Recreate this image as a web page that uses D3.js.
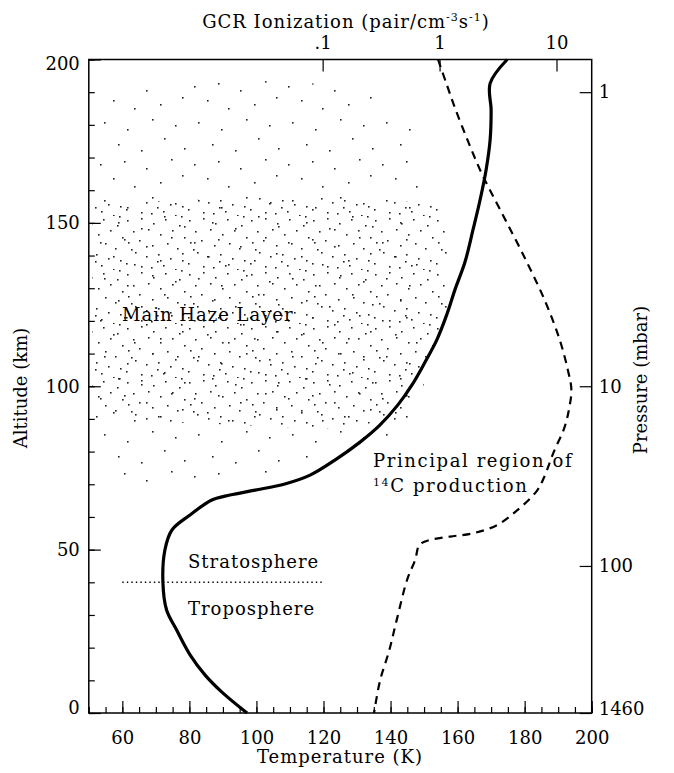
<!DOCTYPE html>
<html>
<head>
<title>Titan atmosphere: temperature and GCR ionization</title>
<script src="https://cdnjs.cloudflare.com/ajax/libs/d3/7.8.5/d3.min.js"></script>
<style>
body { margin: 0; background: #fff; }
svg text { font-family: "DejaVu Serif", serif; font-size: 18px; fill: #000; }
</style>
</head>
<body>
<svg id="chart" width="674" height="773"></svg>
<script>
// temperature profile, altitude (km) -> temperature (K)
var tempAlt = [200, 192.7, 184.5, 175.4, 166.2, 157, 147.9, 138, 129.5, 122, 114.2, 107.4, 100.4, 94.3, 88.1, 82.9, 77.4, 72.8, 70.1, 68.2, 66.7, 65.2, 60.6, 56, 49.9, 40.1, 31.5, 25.4, 17.8, 11.6, 6.4, 0];
var tempK   = [174.8, 169.7, 170, 169.7, 168.5, 166.7, 164.6, 162.2, 159.2, 156.8, 153.8, 150.3, 146.4, 142.2, 136.8, 130.9, 123.4, 116, 108.5, 99.6, 92.1, 86.7, 80.2, 74.8, 72.7, 72.1, 73.2, 76.2, 80.2, 84.7, 89.7, 97.2];

// GCR ionization rate (pair/cm3/s) against altitude (km)
var ionAlt  = [200, 192, 185, 175, 165, 154, 139, 126, 114, 105, 99, 93, 87, 80, 72, 68, 62, 57.5, 55, 54, 53, 52, 51, 47, 41, 28.5, 19, 10, 0];
var ionRate = [0.97, 1.16, 1.36, 1.75, 2.3, 3.3, 5.4, 8.0, 10.7, 12.5, 13.4, 12.8, 11.6, 9.5, 7.8, 6.8, 4.6, 3.1, 1.93, 1.23, 0.83, 0.7, 0.66, 0.62, 0.53, 0.43, 0.37, 0.31, 0.275];

// axis ticks
var tempTicks = [60, 80, 100, 120, 140, 160, 180, 200];
var altTicks = [0, 50, 100, 150, 200];
var ionTicks = [0.1, 1, 10];
var ionTickLabels = [".1", "1", "10"];
// pressure levels (mbar) and the altitude (km) they sit at
var pressureTicks = [1, 10, 100, 1460];
var pressureAlt = [190, 100, 45, 0];

// tropopause marker
var tropoT = [60, 120];
var tropoAlt = 40;

// outline of the haze layer stipple (T in K, altitude in km)
var hazeEdgeT   = [51, 90, 130, 148, 150, 140, 100, 60, 51];
var hazeEdgeAlt = [190, 194, 192, 182, 95, 84, 72, 70, 78];
var hazeCoreT   = [51, 110, 157, 157, 150, 146, 120, 51];
var hazeCoreAlt = [156, 158, 156, 118, 104, 90, 87, 90];

var svg = d3.select("#chart");
var pLeft = 88.8, pRight = 591.7, pTop = 59.5, pBottom = 713;

var x = d3.scaleLinear().domain([50, 200]).range([pLeft, pRight]);
var y = d3.scaleLinear().domain([0, 200]).range([pBottom, pTop]);
var xIon = d3.scaleLog().domain([0.001, 20]).range([pLeft, pRight]);
var yPress = d3.scaleLog().domain(pressureTicks).range(pressureAlt.map(function (a) { return y(a); }));

// stipple patterns for the haze (a fill texture, not data)
var defs = svg.append("defs");
function dotPattern(id, w, h, dots) {
    var p = defs.append("pattern").attr("id", id)
        .attr("patternUnits", "userSpaceOnUse")
        .attr("width", w).attr("height", h);
    dots.forEach(function (d) {
        p.append("rect").attr("x", d[0]).attr("y", d[1])
            .attr("width", 1.6).attr("height", 1.6).attr("fill", "#222");
    });
}
dotPattern("hazeSparse", 94, 78, [[6, 8], [30, 5], [52, 12], [77, 3], [19, 22], [40, 30], [66, 26], [88, 19],
    [10, 44], [33, 51], [58, 41], [81, 47], [24, 66], [47, 72], [70, 60], [90, 70]]);
dotPattern("hazeDense", 62, 54, [[3, 4], [17, 2], [29, 7], [41, 3], [55, 9], [9, 15], [24, 13], [36, 18],
    [48, 14], [60, 21], [4, 26], [15, 24], [28, 29], [43, 27], [53, 32], [11, 36], [22, 40], [34, 38],
    [46, 42], [58, 44], [2, 47], [17, 50], [27, 51], [39, 49], [51, 53], [7, 33], [33, 45], [57, 0]]);

var polyLine = d3.line().x(function (d) { return x(d[0]); }).y(function (d) { return y(d[1]); });
svg.append("path")
    .attr("d", polyLine(d3.zip(hazeEdgeT, hazeEdgeAlt)) + "Z")
    .attr("fill", "url(#hazeSparse)");
svg.append("path")
    .attr("d", polyLine(d3.zip(hazeCoreT, hazeCoreAlt)) + "Z")
    .attr("fill", "url(#hazeDense)");

// axes: ticks point into the frame
function clean(g) { g.select(".domain").remove(); g.selectAll("line").attr("stroke-width", 1.2); }

svg.append("g").attr("transform", "translate(0," + pBottom + ")")
    .call(d3.axisBottom(x).tickValues(d3.range(50, 201, 5)).tickSize(-6).tickFormat(""))
    .call(clean);
svg.append("g").attr("transform", "translate(0," + pBottom + ")")
    .call(d3.axisBottom(x).tickValues(tempTicks).tickSize(-12).tickPadding(18))
    .call(clean);

svg.append("g").attr("transform", "translate(" + pLeft + ",0)")
    .call(d3.axisLeft(y).tickValues(d3.range(0, 201, 10)).tickSize(-6).tickFormat(""))
    .call(clean);
var leftAxis = svg.append("g").attr("transform", "translate(" + pLeft + ",0)")
    .call(d3.axisLeft(y).tickValues(altTicks).tickSize(-12).tickPadding(9))
    .call(clean);
leftAxis.selectAll("text").attr("dy", function (d) { return d === 200 ? "0.55em" : d === 0 ? "0.05em" : "0.32em"; });

svg.append("g").attr("transform", "translate(0," + pTop + ")")
    .call(d3.axisTop(xIon).tickValues(ionTicks).tickSize(-12).tickPadding(10.5)
        .tickFormat(function (d, i) { return ionTickLabels[i]; }))
    .call(clean);

var rightAxis = svg.append("g").attr("transform", "translate(" + pRight + ",0)")
    .call(d3.axisRight(yPress).tickValues(pressureTicks).tickSize(-12).tickPadding(7)
        .tickFormat(d3.format("d")))
    .call(clean);
rightAxis.selectAll("text").attr("dy", function (d) { return d === 1460 ? "0.08em" : "0.32em"; });

svg.selectAll(".tick text").style("font-family", "DejaVu Serif").style("font-size", "18px");

// frame
svg.append("rect").attr("x", pLeft).attr("y", pTop)
    .attr("width", pRight - pLeft).attr("height", pBottom - pTop)
    .attr("fill", "none").attr("stroke", "#000").attr("stroke-width", 1.5);

// tropopause
svg.append("line")
    .attr("x1", x(tropoT[0])).attr("x2", x(tropoT[1]))
    .attr("y1", y(tropoAlt)).attr("y2", y(tropoAlt))
    .attr("stroke", "#000").attr("stroke-width", 1.6)
    .attr("stroke-dasharray", "1.4 3.1");

// GCR ionization (dashed)
var ionLine = d3.line()
    .x(function (d) { return xIon(d[1]); })
    .y(function (d) { return y(d[0]); })
    .curve(d3.curveCatmullRom);
svg.append("path")
    .attr("d", ionLine(d3.zip(ionAlt, ionRate)))
    .attr("fill", "none").attr("stroke", "#000")
    .attr("stroke-width", 2.2).attr("stroke-dasharray", "8 6");

// temperature (solid)
var tempLine = d3.line()
    .x(function (d) { return x(d[1]); })
    .y(function (d) { return y(d[0]); })
    .curve(d3.curveCatmullRom);
svg.append("path")
    .attr("d", tempLine(d3.zip(tempAlt, tempK)))
    .attr("fill", "none").attr("stroke", "#000")
    .attr("stroke-width", 3.2).attr("stroke-linejoin", "round");

// labels
function label(txt, px, py, anchor, spacing) {
    return svg.append("text").attr("x", px).attr("y", py)
        .attr("text-anchor", anchor || "start")
        .style("letter-spacing", spacing || "1px").text(txt);
}
label("Main Haze Layer", 122, 321);
label("Stratosphere", 188, 568);
label("Troposphere", 188, 615);
label("Principal region of", 373, 467, "start", "1.6px");
var c14 = svg.append("text").attr("x", 373).attr("y", 491.7).style("letter-spacing", "1.6px");
c14.append("tspan").attr("font-size", "11px").attr("dy", "-6").text("14");
c14.append("tspan").attr("dy", "6").text("C production");

label("Temperature (K)", 340, 763, "middle");
var gcr = svg.append("text").attr("x", 346).attr("y", 28)
    .attr("text-anchor", "middle").style("letter-spacing", "1px");
gcr.append("tspan").text("GCR Ionization (pair/cm");
gcr.append("tspan").attr("font-size", "11px").attr("dy", "-7").text("-3");
gcr.append("tspan").attr("dy", "7").text("s");
gcr.append("tspan").attr("font-size", "11px").attr("dy", "-7").text("-1");
gcr.append("tspan").attr("dy", "7").text(")");

svg.append("text").attr("transform", "translate(27,388) rotate(-90)")
    .attr("text-anchor", "middle").text("Altitude (km)");
svg.append("text").attr("transform", "translate(647,380) rotate(-90)")
    .attr("text-anchor", "middle").text("Pressure (mbar)");
</script>
</body>
</html>
